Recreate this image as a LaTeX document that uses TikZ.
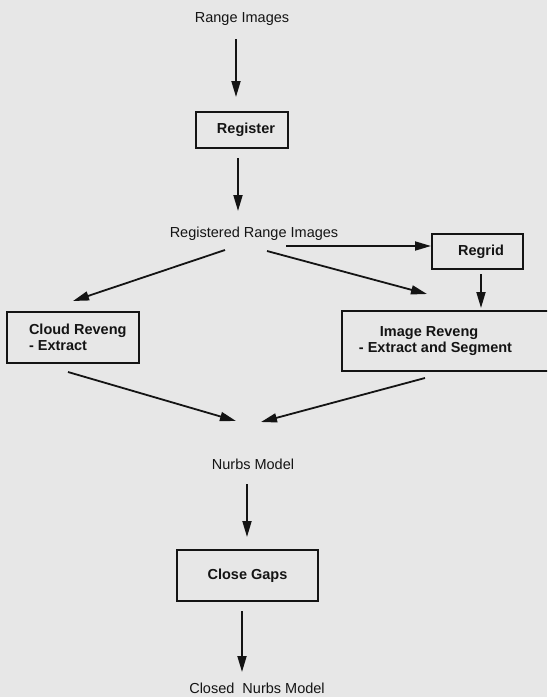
\documentclass[tikz,border=0pt]{standalone}
\usepackage{fontspec}
\setmainfont{Liberation Sans}
\usetikzlibrary{arrows.meta}
\definecolor{paper}{RGB}{231,231,231}
\definecolor{ink}{RGB}{20,20,20}
\begin{document}
\begin{tikzpicture}[x=1pt,y=-1pt,
  font=\fontsize{14.5}{16}\selectfont,
  lbl/.style={inner sep=0pt, anchor=base, text=ink},
  box/.style={draw=ink, line width=1.8pt, inner sep=0pt, outer sep=0pt,
    font=\fontsize{14.5}{16}\selectfont\bfseries, text=ink},
  arr/.style={draw=ink, line width=1.8pt, -{Triangle[length=16pt,width=9pt]}}]
\useasboundingbox (0,0) rectangle (547,697);
\fill[paper] (0,0) rectangle (547,697);
\clip (0,0) rectangle (547,697);

\node[lbl] (ri) at (242,22) {Range Images};
\node[box, minimum width=92pt, minimum height=36pt] (reg) at (242,130) {\hspace*{8pt}Register};
\node[lbl] (rri) at (254,237) {Registered Range Images};
\node[box, minimum width=91pt, minimum height=35pt] (regrid) at (477.5,251.5) {\hspace*{7pt}Regrid};
\node[box, minimum width=132pt, minimum height=51pt, align=left] (cloud) at (73,337.5)
  {\hspace*{9.5pt}Cloud Reveng\\\hspace*{9.5pt}- Extract};
\node[box, minimum width=240pt, minimum height=60pt, align=left] (image) at (462,341)
  {\hspace*{21pt}Image Reveng\\- Extract and Segment\rule{53pt}{0pt}};
\node[lbl] (nurbs) at (253,469) {Nurbs Model};
\node[box, minimum width=141pt, minimum height=51pt] (gaps) at (247.5,575.5) {Close Gaps};
\node[lbl] (closed) at (257,693) {Closed\ \ Nurbs Model};

\draw[arr] ([xshift=-6pt,yshift=-17pt]ri.base) -- ([xshift=-6pt,yshift=15pt]reg.north);
\draw[arr] ([xshift=-4pt,yshift=-10pt]reg.south) -- ([xshift=-16pt,yshift=26pt]rri.base);
\draw[arr] ([xshift=32pt,yshift=-9pt]rri.base) -- ([xshift=-1pt,yshift=5.5pt]regrid.west);
\draw[arr] ([xshift=-29pt,yshift=-13pt]rri.base) -- ([yshift=11pt]cloud.north);
\draw[arr] ([xshift=13pt,yshift=-14pt]rri.base) -- ([xshift=85pt,yshift=17pt]image.north west);
\draw[arr] ([xshift=3.5pt,yshift=-5pt]regrid.south) -- ([xshift=139pt,yshift=3pt]image.north west);
\draw[arr] ([xshift=-5pt,yshift=-9pt]cloud.south) -- ([xshift=-17pt,yshift=48pt]nurbs.base);
\draw[arr] ([xshift=83pt,yshift=-7pt]image.south west) -- ([xshift=8pt,yshift=47pt]nurbs.base);
\draw[arr] ([xshift=-6pt,yshift=-15pt]nurbs.base) -- ([xshift=-0.5pt,yshift=13pt]gaps.north);
\draw[arr] ([xshift=-5.5pt,yshift=-10pt]gaps.south) -- ([xshift=-15pt,yshift=21pt]closed.base);
\end{tikzpicture}
\end{document}
